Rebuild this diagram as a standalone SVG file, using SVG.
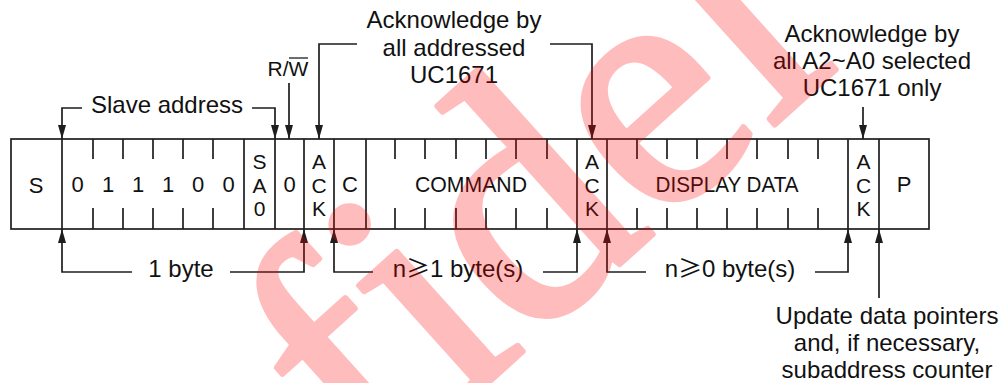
<svg xmlns="http://www.w3.org/2000/svg" width="1001" height="383" viewBox="0 0 1001 383">
<defs>
<style>
.ln{stroke:#1e1e1e;stroke-width:1.7;fill:none}
.cn{stroke:#1e1e1e;stroke-width:1.7;fill:none;marker-end:url(#ah)}
.t{font-family:"Liberation Sans",Arial,sans-serif;fill:#111;text-anchor:middle}
.lb{font-size:24px}
.bx{font-size:22px}
.st{font-size:21px}
.cjk{font-family:"Noto Sans CJK SC",sans-serif}
.wm{font-family:"Liberation Serif","Times New Roman",serif;fill:#ff0000;stroke:#ff0000;stroke-width:6;stroke-linejoin:round}
</style>
<marker id="ah" viewBox="0 0 14 8" refX="14" refY="4" markerWidth="14" markerHeight="8" markerUnits="userSpaceOnUse" orient="auto">
<path d="M0,0 L14,4 L0,8 Z" fill="#1e1e1e"/>
</marker>
</defs>
<rect width="1001" height="383" fill="#fff"/>
<g id="frame">
<rect class="ln" x="11" y="139" width="918" height="90"/>
<path class="ln" d="M62,139V229M244,139V229M275,139V229M304,139V229M334,139V229M366,139V229M577,139V229M607,139V229M848,139V229M879,139V229"/>
<path class="ln" d="M93,139V159M123,139V159M153,139V159M183,139V159M213,139V159M395,139V159M425,139V159M456,139V159M486,139V159M516,139V159M547,139V159M637,139V159M667,139V159M697,139V159M727,139V159M757,139V159M788,139V159M818,139V159"/>
<path class="ln" d="M93,208V229M123,208V229M153,208V229M183,208V229M213,208V229M395,208V229M425,208V229M456,208V229M486,208V229M516,208V229M547,208V229M637,208V229M667,208V229M697,208V229M727,208V229M757,208V229M788,208V229M818,208V229"/>
</g>
<g id="field-S"><text class="t bx" x="36" y="193">S</text></g>
<g id="field-address">
<text class="t bx" x="77.5" y="192">0</text>
<text class="t bx" x="108" y="192">1</text>
<text class="t bx" x="138" y="192">1</text>
<text class="t bx" x="168" y="192">1</text>
<text class="t bx" x="198" y="192">0</text>
<text class="t bx" x="228.5" y="192">0</text>
</g>
<g id="field-SA0">
<text class="t st" x="259.5" y="169">S</text>
<text class="t st" x="259.5" y="193">A</text>
<text class="t st" x="259.5" y="216">0</text>
</g>
<g id="field-RW"><text class="t bx" x="289.5" y="192">0</text></g>
<g id="field-ACK1">
<text class="t st" x="319" y="169">A</text>
<text class="t st" x="319" y="193">C</text>
<text class="t st" x="319" y="216">K</text>
</g>
<g id="field-C"><text class="t bx" x="350" y="192">C</text></g>
<g id="field-COMMAND"><text class="t bx" x="471" y="192" textLength="112" lengthAdjust="spacingAndGlyphs">COMMAND</text></g>
<g id="field-ACK2">
<text class="t st" x="592" y="169">A</text>
<text class="t st" x="592" y="193">C</text>
<text class="t st" x="592" y="216">K</text>
</g>
<g id="field-DATA"><text class="t bx" x="727" y="192" textLength="143" lengthAdjust="spacingAndGlyphs">DISPLAY DATA</text></g>
<g id="field-ACK3">
<text class="t st" x="863.5" y="169">A</text>
<text class="t st" x="863.5" y="193">C</text>
<text class="t st" x="863.5" y="216">K</text>
</g>
<g id="field-P"><text class="t bx" x="904" y="192">P</text></g>
<g id="connectors">
<path class="cn" d="M82,108H62V139"/>
<path class="cn" d="M252,108H275V139"/>
<path class="cn" d="M289,83V139"/>
<path class="cn" d="M357,44H319V139"/>
<path class="cn" d="M550,44H592V139"/>
<path class="cn" d="M863,107V139"/>
<path class="cn" d="M132,272H62V229"/>
<path class="cn" d="M230,272H304V229"/>
<path class="cn" d="M373,272H334V229"/>
<path class="cn" d="M543,272H577V229"/>
<path class="cn" d="M646,272H607V229"/>
<path class="cn" d="M815,272H848V229"/>
<path class="cn" d="M879,298V229"/>
</g>
<g id="label-slave"><text class="t lb" x="167" y="113">Slave address</text></g>
<g id="label-rw">
<text class="t" x="288" y="76" style="font-size:21px">R/W</text>
<path class="ln" d="M289,58H308" style="stroke-width:1.3"/>
</g>
<g id="label-ack-all">
<text class="t lb" x="454" y="28">Acknowledge by</text>
<text class="t lb" x="454" y="56">all addressed</text>
<text class="t lb" x="454" y="83">UC1671</text>
</g>
<g id="label-ack-sel">
<text class="t lb" x="872" y="42">Acknowledge by</text>
<text class="t lb" x="872" y="69">all A2~A0 selected</text>
<text class="t lb" x="872" y="96">UC1671 only</text>
</g>
<g id="label-1byte"><text class="t lb" x="181" y="277">1 byte</text></g>
<g id="label-n1"><text class="t lb" x="458" y="277">n<tspan class="cjk">≥</tspan>1 byte(s)</text></g>
<g id="label-n0"><text class="t lb" x="730" y="277">n<tspan class="cjk">≥</tspan>0 byte(s)</text></g>
<g id="label-update">
<text class="t lb" x="887" y="324">Update data pointers</text>
<text class="t lb" x="887" y="351">and, if necessary,</text>
<text class="t lb" x="887" y="378">subaddress counter</text>
</g>
<g id="watermark" opacity="0.26"><text class="wm" x="0" y="0" font-size="345" transform="translate(371,488) rotate(-42)">fidel</text></g>
</svg>
